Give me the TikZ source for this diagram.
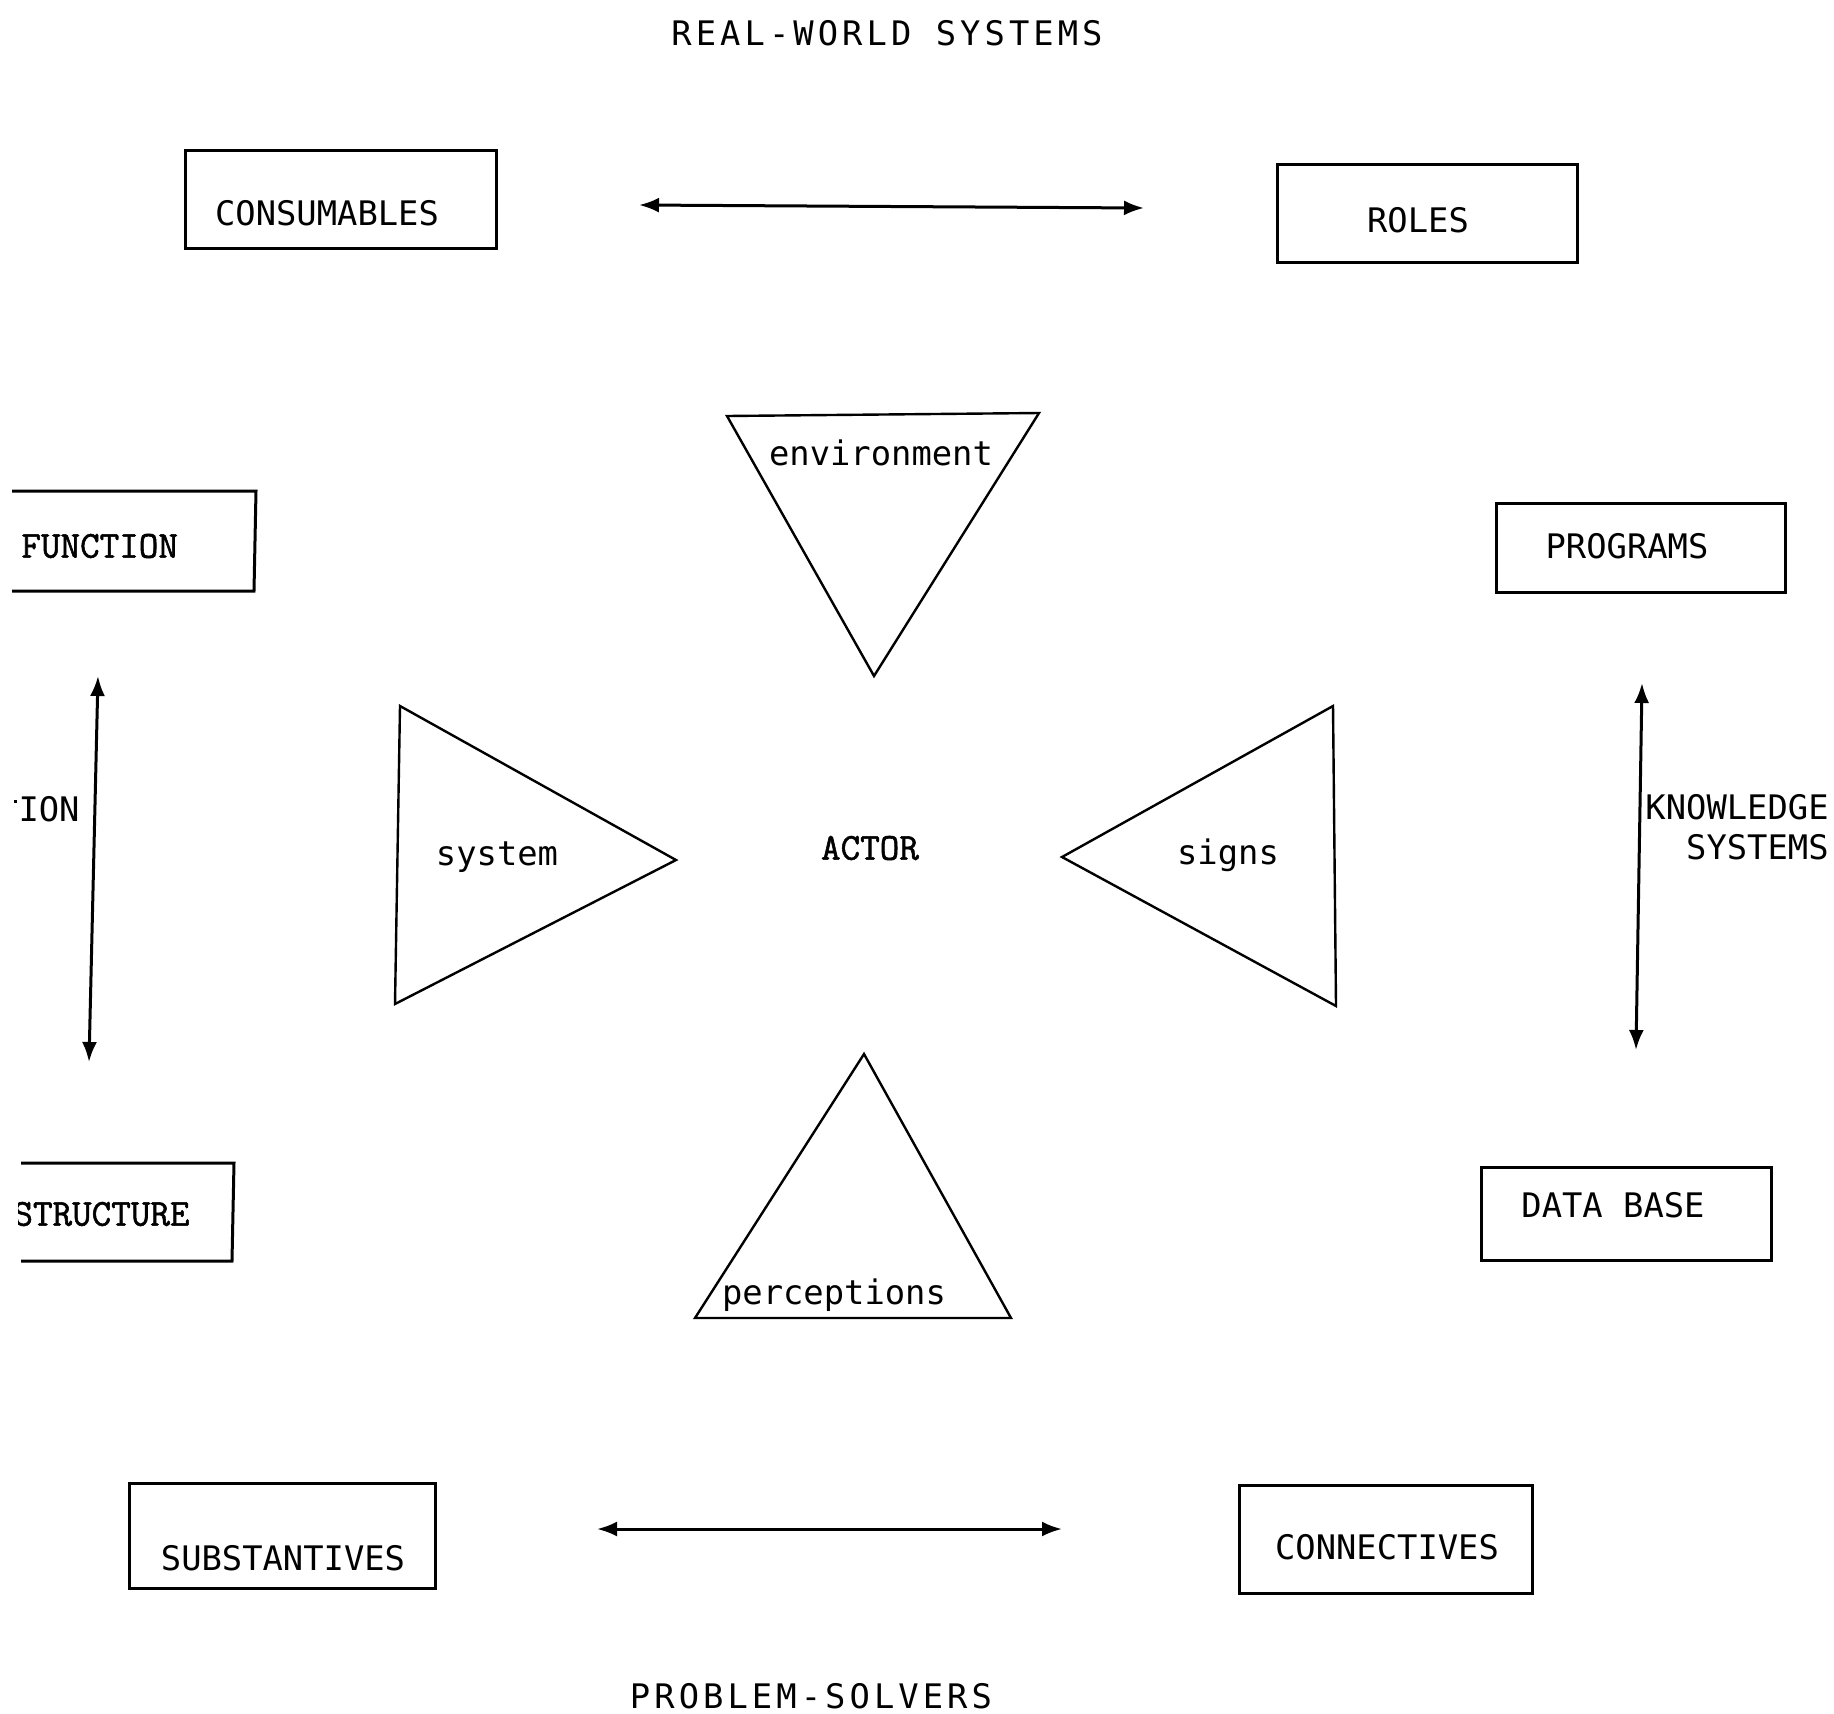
\documentclass[tikz,border=0pt]{standalone}
\usepackage{fontspec}
\usetikzlibrary{arrows.meta,fit}
\newfontfamily\plotfont{DejaVu Sans Mono}
\newfontfamily\plotspaced[LetterSpace=12]{DejaVu Sans Mono}
\newfontfamily\typefont[FakeBold=1.5]{Latin Modern Mono}
\begin{document}
\begin{tikzpicture}[x=0.5pt,y=-0.5pt,
  boxline/.style={line width=1.5pt},
  triline/.style={line width=1.2pt, line join=miter},
  dblarrow/.style={line width=1.5pt, {Latex[length=10pt,width=7.5pt]}-{Latex[length=10pt,width=7.5pt]}},
  lbl/.style={font=\plotfont\fontsize{16.9}{20}\selectfont, inner sep=0pt},
  tlbl/.style={font=\typefont\bfseries\fontsize{19}{22}\selectfont, inner sep=0pt},
  ttl/.style={font=\plotspaced\fontsize{16.9}{20}\selectfont, inner sep=0pt}]
\useasboundingbox (0,0) rectangle (1834,1713);
\fill[white] (0,0) rectangle (1834,1713);

% titles
\node[ttl] (rws) at (887,33) {REAL-WORLD SYSTEMS};
\node[ttl] (ps) at (811,1696) {PROBLEM-SOLVERS};

% full boxes
\node[draw, boxline, inner sep=0pt, fit={(185,150) (496,248)}] (consbox) {};
\node[lbl] (cons) at (327,213) {CONSUMABLES};
\node[draw, boxline, inner sep=0pt, fit={(1277,164) (1577,262)}] (rolesbox) {};
\node[lbl] (roles) at (1418,220) {ROLES};
\node[draw, boxline, inner sep=0pt, fit={(1496,503) (1785,592)}] (progbox) {};
\node[lbl] (prog) at (1627,546) {PROGRAMS};
\node[draw, boxline, inner sep=0pt, fit={(1481,1167) (1771,1260)}] (dbbox) {};
\node[lbl] (db) at (1613,1205) {DATA BASE};
\node[draw, boxline, inner sep=0pt, fit={(129,1483) (435,1588)}] (subbox) {};
\node[lbl] (sub) at (283,1558) {SUBSTANTIVES};
\node[draw, boxline, inner sep=0pt, fit={(1239,1485) (1532,1593)}] (conbox) {};
\node[lbl] (con) at (1387,1547) {CONNECTIVES};

% boxes cut off at the left edge
\coordinate (fa) at (12,491);
\coordinate (fb) at (256,491);
\coordinate (fc) at (254,591);
\coordinate (fd) at (12,591);
\draw[boxline] (fa) -- (fb) -- (fc) -- (fd);
\node[tlbl, anchor=west] (func) at (21,546) {FUNCTION};
\coordinate (sa) at (21,1163);
\coordinate (sb) at (234,1163);
\coordinate (sc) at (232,1261);
\coordinate (sd) at (21,1261);
\draw[boxline] (sa) -- (sb) -- (sc) -- (sd);
\begin{scope}
\clip (18,1150) rectangle (230,1280);
\node[tlbl, anchor=west] (struct) at (13,1214) {STRUCTURE};
\end{scope}

% cut-off label
\node[lbl, anchor=east] (ion) at (80,809) {ION};
\fill (14,800) rectangle (17,803);

% knowledge systems
\node[lbl, anchor=east, align=right] (ks) at (1829,827) {KNOWLEDGE\\SYSTEMS};

% arrows
\coordinate (t1) at (639,205);
\coordinate (t2) at (1144,208);
\draw[dblarrow] (t1) -- (t2);
\coordinate (l1) at (98,676);
\coordinate (l2) at (89,1062);
\draw[dblarrow] (l1) -- (l2);
\coordinate (r1) at (1642,683);
\coordinate (r2) at (1636,1050);
\draw[dblarrow] (r1) -- (r2);
\coordinate (b1) at (597,1529);
\coordinate (b2) at (1062,1529);
\draw[dblarrow] (b1) -- (b2);

% triangles
\coordinate (e1) at (727,416);
\coordinate (e2) at (1039,413);
\coordinate (e3) at (874,676);
\draw[triline] (e1) -- (e2) -- (e3) -- cycle;
\node[lbl] (env) at (881,453) {environment};

\coordinate (s1) at (400,706);
\coordinate (s2) at (676,860);
\coordinate (s3) at (395,1004);
\draw[triline] (s1) -- (s2) -- (s3) -- cycle;
\node[lbl] (sys) at (497,857) {system};

\coordinate (g1) at (1333,706);
\coordinate (g2) at (1062,857);
\coordinate (g3) at (1336,1006);
\draw[triline] (g1) -- (g2) -- (g3) -- cycle;
\node[lbl] (signs) at (1228,855) {signs};

\coordinate (p1) at (864,1054);
\coordinate (p2) at (1011,1318);
\coordinate (p3) at (695,1318);
\draw[triline] (p1) -- (p2) -- (p3) -- cycle;
\node[lbl] (perc) at (834,1295) {perceptions};

\node[tlbl] (actor) at (870,848) {ACTOR};
\end{tikzpicture}
\end{document}
